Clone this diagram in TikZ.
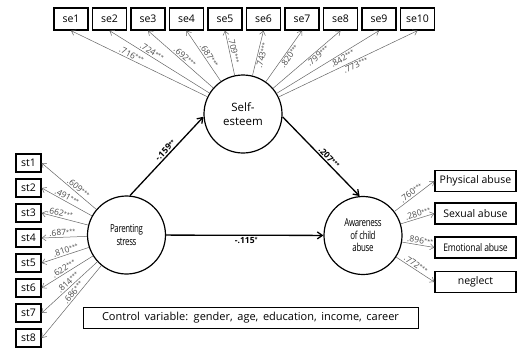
\documentclass[tikz,border=0pt]{standalone}
\usepackage{fontspec}
\setmainfont{Open Sans}
\usetikzlibrary{arrows.meta}
\newcommand{\stars}[1]{\raisebox{1.5pt}{\fontsize{5.5}{5.5}\selectfont#1}}

\begin{document}
\begin{tikzpicture}[x=1pt,y=-1pt,font=\fontsize{10.5}{12}\selectfont,latent/.style={circle, draw, line width=1.2pt, minimum size=78pt, inner sep=0pt, align=center},obs/.style={draw, line width=1.3pt, inner sep=0pt, minimum height=21pt},load/.style={-{Straight Barb[length=4pt,width=6pt]}, black!60, line width=0.5pt},main/.style={-{Straight Barb[length=5pt,width=7pt]}, line width=1.3pt},coef/.style={sloped, font=\fontsize{8.5}{9}\selectfont, text=black!70, inner sep=1.2pt},pcoef/.style={coef, text=black, font=\fontsize{8.5}{9}\selectfont\bfseries},squeeze/.style={font=\fontsize{11}{12.5}\selectfont\addfontfeatures{FakeStretch=0.72,LetterSpace=-3}}]
\useasboundingbox (0,0) rectangle (517,349);
\node[latent, font=\fontsize{11.5}{14}\selectfont] (se) at (243,114) {Self-\\esteem};
\node[latent, squeeze] (ps) at (126.5,235) {Parenting\\stress};
\node[latent, squeeze] (aw) at (363,235.5) {Awareness\\of child\\abuse};
% observed variables
\foreach \i in {1,...,10} \node[obs, minimum width=34pt, minimum height=22pt] (se\i) at ({71+38.5*(\i-1)},19) {se\i};
\foreach \i in {1,...,8} \node[obs, minimum width=25pt, minimum height=18pt] (st\i) at (28.5,{163+25*(\i-1)}) {st\i};
\node[obs, minimum width=81pt] (pa) at (475.5,181) {Physical abuse};
\node[obs, minimum width=81pt] (sa) at (475.5,213.5) {Sexual abuse};
\node[obs, minimum width=81pt, font=\fontsize{10.5}{12}\selectfont\addfontfeatures{FakeStretch=0.82,LetterSpace=-2}] (ea) at (475.5,247.5) {Emotional abuse};
\node[obs, minimum width=81pt] (ne) at (475.5,282) {neglect};
\node[obs, minimum width=335pt, line width=1pt, font=\fontsize{11}{12}\selectfont] (ctrl) at (250.5,317.5) {\spaceskip=4.6pt\relax Control variable: gender, age, education, income, career};
% loadings
\foreach \i/\c/\p in {1/.716/0.57,2/.724/0.6,3/.692/0.48,4/.687/0.45,5/.709/0.54} \draw[load] (se) -- (se\i.south) node[coef, pos=\p, above] {\c\stars{***}};
\foreach \i/\c/\p in {6/.743/0.47,7/.820/0.55,8/.799/0.62,9/.842/0.62,10/.773/0.54} \draw[load] (se) -- (se\i.south) node[coef, pos=\p, below] {\c\stars{***}};
\foreach \i/\c/\p in {1/.609/0.38,2/.491/0.54,3/.662/0.63,4/.687/0.54,5/.810/0.46,6/.622/0.52,7/.814/0.47,8/.686/0.41} \draw[load] (ps) -- (st\i.east) node[coef, pos=\p, above] {\c\stars{***}};
\foreach \n/\c/\p in {pa/.760/0.49,sa/.280/0.55,ea/.896/0.54,ne/.772/0.45} \draw[load] (aw) -- (\n.west) node[coef, pos=\p, above] {\c\stars{***}};
% structural paths
\draw[main] (ps.85) -- (se.184) node[pcoef, pos=0.53, above] {-.159\stars{**}};
\draw[main] (se.-4) -- (aw.95) node[pcoef, pos=0.56, above] {.207\stars{***}};
\draw[main] (ps) -- (aw) node[pcoef, pos=0.51, below] {-.115\stars{*}};
\end{tikzpicture}
\end{document}
